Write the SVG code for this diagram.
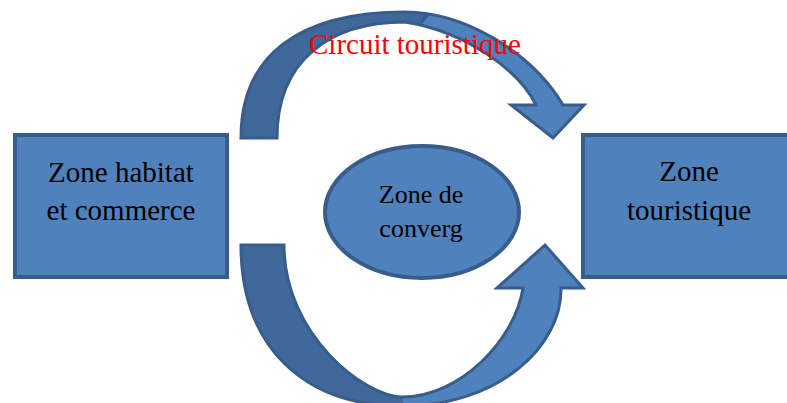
<svg xmlns="http://www.w3.org/2000/svg" width="787" height="403" viewBox="0 0 787 403">
<style>
.box{fill:#4f81bd;stroke:#385d8a;stroke-width:4}
.lbl{font-family:"Liberation Serif","Times New Roman",serif;fill:#000;text-anchor:middle}
.dark{fill:#40689a}
.light{fill:#4f81bd}
.edge{fill:none;stroke:#385d8a;stroke-width:3;stroke-linejoin:miter}
</style>
<defs>
<path id="topArrow" d="M241,138 C241,56 298,12 405,12 C462,12 530,50 563,105 L584,105 L553,138 L511,105 L536,105 C520,72 468,32 405,22 C330,22 277,60 277,138 Z"/>
<path id="botArrow" d="M241,245 C241,345 302,406 402,406 C500,406 562,345 561,288 L583,288 L545,245 L497,288 L523,288 C515,340 460,397 402,397 C365,397 284,335 284,245 Z"/>
<clipPath id="clipTop"><polygon points="436,0 800,0 800,200 300,200"/></clipPath>
<clipPath id="clipBot"><polygon points="403,230 800,230 800,420 403,420"/></clipPath>
</defs>
<g id="connectors">
<g id="arrow-top">
<use href="#topArrow" class="dark"/>
<use href="#topArrow" class="light" clip-path="url(#clipTop)"/>
<use href="#topArrow" class="edge"/>
<path class="edge" d="M428,14 L421,23"/>
</g>
<g id="arrow-bottom">
<use href="#botArrow" class="dark"/>
<use href="#botArrow" class="light" clip-path="url(#clipBot)"/>
<use href="#botArrow" class="edge"/>
</g>
<text id="label-circuit" x="309" y="54" font-family="Liberation Serif, Times New Roman, serif" font-size="29" fill="#ff0000">Circuit touristique</text>
</g>
<g id="node-habitat">
<rect class="box" x="15" y="135" width="212" height="142"/>
<text class="lbl" font-size="29" x="121" y="182">Zone habitat</text>
<text class="lbl" font-size="29" x="121" y="220">et commerce</text>
</g>
<g id="node-touristique">
<rect class="box" x="583" y="135" width="220" height="142"/>
<text class="lbl" font-size="29" x="689" y="181">Zone</text>
<text class="lbl" font-size="29" x="689" y="220">touristique</text>
</g>
<g id="node-convergence">
<ellipse class="box" cx="422" cy="212" rx="97" ry="66"/>
<text class="lbl" font-size="26" x="421" y="203">Zone de</text>
<text class="lbl" font-size="26" x="421" y="237">converg</text>
</g>
</svg>
